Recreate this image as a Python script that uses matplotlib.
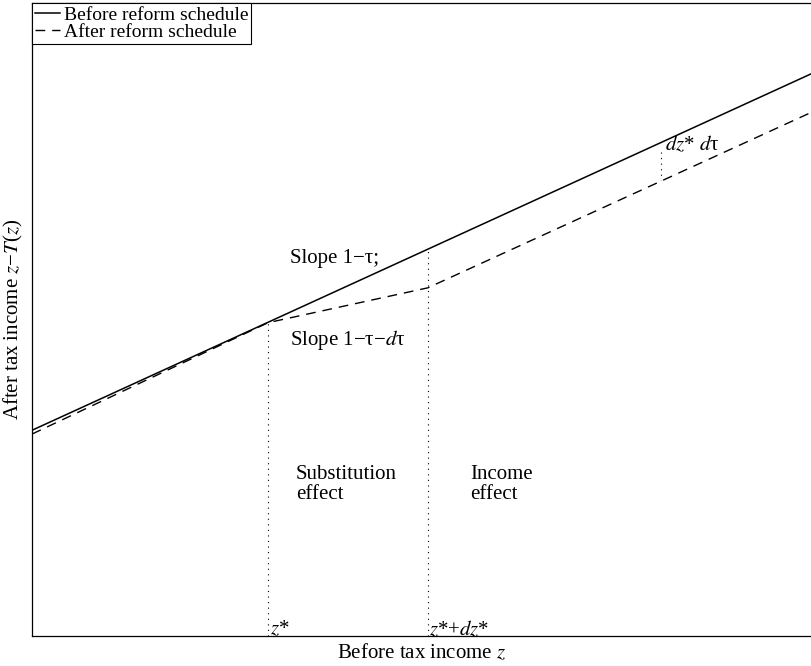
import matplotlib
matplotlib.use("Agg")
import matplotlib.pyplot as plt

plt.rcParams["font.family"] = ["Liberation Serif", "DejaVu Serif"]
plt.rcParams["mathtext.fontset"] = "stix"
plt.rcParams["font.size"] = 15

# tax schedules (before tax income z, after tax income z - T(z))
z_before = [0, 100]
y_before = [32.5, 88.8]
z_after = [0, 30.3, 50.8, 100]
y_after = [31.9, 49.5, 55.0, 82.7]

z_star = 30.3
z_star_dz = 50.8
z_gap = 80.7
y_gap = [76.5, 72.0]

fig = plt.figure(figsize=(8.11, 6.66), dpi=100)
ax = fig.add_axes([32 / 811, 30 / 666, 1 - 32 / 811, 633 / 666])

ax.plot(z_before, y_before, color="black", lw=1.1, label="Before reform schedule")
ax.plot(z_after, y_after, color="black", lw=1.0, ls=(0, (7, 5)), label="After reform schedule")

# dotted guide lines
ax.plot([z_star, z_star], [0, y_after[1]], color="black", lw=0.8, ls=(0, (1, 4)))
ax.plot([z_star_dz, z_star_dz], [0, 61.1], color="black", lw=0.8, ls=(0, (1, 4)))
ax.plot([z_gap, z_gap], y_gap, color="black", lw=0.8, ls=(0, (1, 4)))

ax.text(33.1, 59.7, "Slope 1−τ;", va="center", ha="left")
ax.text(33.1, 46.8, "Slope 1−τ−$d$τ", va="center", ha="left")
ax.text(33.9, 23.9, "Substitution\neffect", va="center", ha="left", linespacing=1.1)
ax.text(56.2, 23.9, "Income\neffect", va="center", ha="left", linespacing=1.1)
ax.text(z_star + 0.2, 1.0, "$z$*", va="center", ha="left")
ax.text(z_star_dz + 0.2, 1.0, "$z$*+$dz$*", va="center", ha="left")
ax.text(z_gap + 0.6, 77.6, "$dz$* $d$τ", va="center", ha="left")

ax.set_xlim(0, 100)
ax.set_ylim(0, 100)
ax.set_xticks([])
ax.set_yticks([])
ax.spines["right"].set_visible(False)
for s in ["left", "bottom", "top"]:
    ax.spines[s].set_linewidth(0.9)

ax.set_xlabel("Before tax income $z$", labelpad=5)
ax.set_ylabel("After tax income $z$−$T$($z$)", labelpad=5)

leg = ax.legend(loc="upper left", borderaxespad=0, fancybox=False, edgecolor="black",
                handlelength=1.3, handletextpad=0.2, borderpad=0.15, labelspacing=0.0,
                framealpha=1, fontsize=14)
leg.get_frame().set_linewidth(0.8)

fig.savefig("out.png", dpi=100)
